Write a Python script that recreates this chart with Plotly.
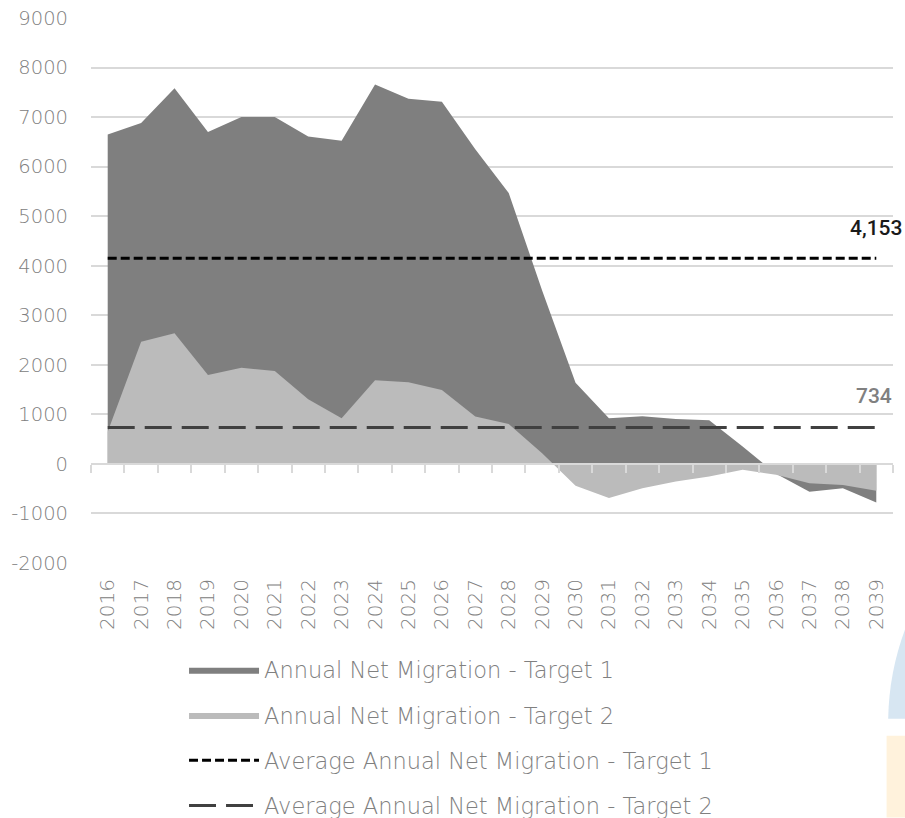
import plotly.graph_objects as go

years = list(range(2016, 2040))
target1 = [6650, 6880, 7580, 6700, 7000, 7000, 6610, 6520, 7660, 7370, 7310, 6350,
           5470, 3500, 1640, 920, 960, 905, 880, 350, -200, -560, -490, -780]
target2 = [650, 2465, 2635, 1795, 1940, 1875, 1305, 920, 1690, 1650, 1490, 955,
           805, 215, -440, -690, -490, -356, -255, -120, -220, -390, -425, -540]
avg1 = 4153
avg2 = 734
avg_labels = ["4,153", "734"]
names = ["Annual Net Migration - Target 1", "Annual Net Migration - Target 2",
         "Average Annual Net Migration - Target 1", "Average Annual Net Migration - Target 2"]
y_ticks = list(range(-2000, 9001, 1000))
y_ticktext = [str(v) for v in y_ticks]

FONT = "DejaVu Sans"
GRAY_TXT = "#808080"

fig = go.Figure()
fig.add_trace(go.Scatter(x=years, y=target1, name=names[0], mode="lines",
                         fill="tozeroy", fillcolor="#7f7f7f",
                         line=dict(width=0, color="#7f7f7f"), legendgroup="a"))
fig.add_trace(go.Scatter(x=years, y=target2, name=names[1], mode="lines",
                         fill="tozeroy", fillcolor="#bbbbbb",
                         line=dict(width=0, color="#bbbbbb"), legendgroup="b"))
fig.add_trace(go.Scatter(x=years, y=[avg1] * len(years), name=names[2], mode="lines",
                         line=dict(width=3, color="#000000", dash="9px,4px"), legendgroup="c"))
fig.add_trace(go.Scatter(x=years, y=[avg2] * len(years), name=names[3], mode="lines",
                         line=dict(width=3, color="#404040", dash="27px,10px"), legendgroup="d"))

# zero axis with tick marks between categories
fig.add_trace(go.Scatter(x=[years[0]], y=[0], xaxis="x2", mode="markers",
                         marker=dict(opacity=0), showlegend=False, hoverinfo="skip"))

fig.add_annotation(xref="paper", x=1.0137, xanchor="right", y=avg1, text=avg_labels[0],
                   showarrow=False, yshift=30,
                   font=dict(family="Roboto", size=21, color="#1a1a1a", weight=500))
fig.add_annotation(xref="paper", x=1.0012, xanchor="right", y=avg2, text=avg_labels[1],
                   showarrow=False, yshift=32,
                   font=dict(family="Roboto", size=21, color="#808080", weight=500))

# decorative watermark fragments at bottom right
fig.add_shape(type="path", xref="paper", yref="paper",
              path="M 1.0155,-0.12 Q 0.995,-0.2 0.994,-0.2857 L 1.02,-0.2857 L 1.02,-0.12 Z",
              fillcolor="#d7e6f2", line=dict(width=0), layer="below")
fig.add_shape(type="rect", xref="paper", yref="paper",
              x0=0.992, x1=1.02, y0=-0.317, y1=-0.467,
              fillcolor="#fff2dc", line=dict(width=0), layer="below")

fig.update_layout(
    width=905, height=818,
    margin=dict(l=91, r=12, t=18, b=255, autoexpand=False),
    paper_bgcolor="white", plot_bgcolor="white",
    font=dict(family=FONT, color=GRAY_TXT),
    showlegend=True,
    legend=dict(orientation="v", x=0.116, xanchor="left", y=-0.157, yanchor="top",
                font=dict(family=FONT, size=22.5, color=GRAY_TXT, weight=300),
                itemwidth=70, tracegroupgap=13, traceorder="grouped",
                bgcolor="rgba(0,0,0,0)"),
    xaxis=dict(range=[2015.5, 2039.5], tickmode="array", tickvals=years,
               ticktext=[str(y) for y in years], tickangle=-90,
               showgrid=False, zeroline=False, showline=False, ticks="",
               ticklabelstandoff=11,
               tickfont=dict(family=FONT, size=20, color=GRAY_TXT, weight=300),
               automargin=False, fixedrange=True),
    xaxis2=dict(range=[2015.5, 2039.5], overlaying="x", anchor="free",
                position=2 / 11, side="bottom", showline=True, linecolor="#d9d9d9",
                linewidth=2, ticks="outside", ticklen=8, tickwidth=2, tickcolor="#d9d9d9",
                tickmode="array", tickvals=[y - 0.5 for y in years] + [years[-1] + 0.5],
                showticklabels=False, showgrid=False, zeroline=False,
                layer="above traces", automargin=False),
    yaxis=dict(range=[-2000, 9000], tickmode="array", tickvals=y_ticks,
               ticktext=y_ticktext,
               showgrid=True, gridcolor="#d9d9d9", gridwidth=1.5, zeroline=False,
               showline=False, ticks="", ticklabelstandoff=22, automargin=False,
               tickfont=dict(family=FONT, size=19.5, color=GRAY_TXT, weight=300)),
)

fig.write_html("out.html", config={"displayModeBar": False},
               post_script="document.body.style.margin='0';document.body.style.overflow='hidden';")
